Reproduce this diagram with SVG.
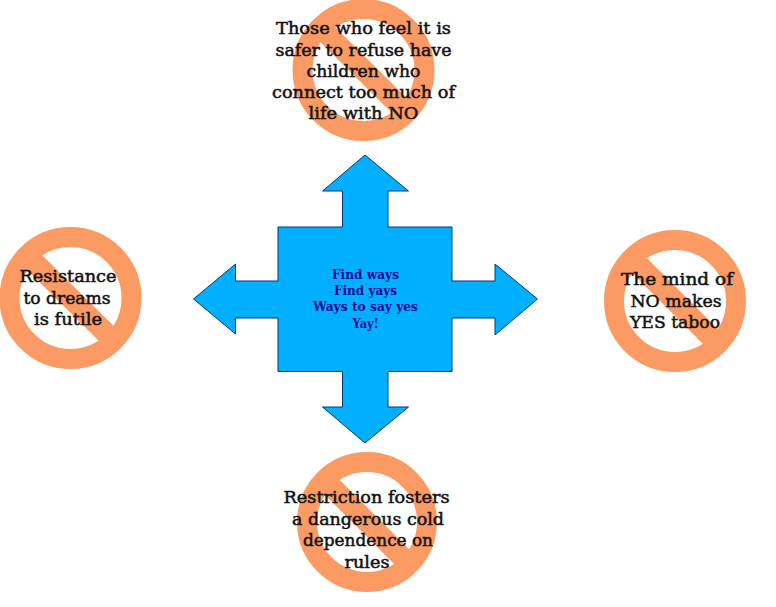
<svg xmlns="http://www.w3.org/2000/svg" width="776" height="607" viewBox="0 0 776 607">
<style>
.ring{fill:none;stroke:#fb9a63;stroke-width:20}
.bar{stroke:#fb9a63;stroke-width:21;fill:none}
.t{font-family:"DejaVu Serif","Liberation Serif",serif;font-size:17px;fill:#111;text-anchor:middle;stroke:#111;stroke-width:.5}
.c{font-family:"DejaVu Serif","Liberation Serif",serif;font-size:12.500px;font-weight:bold;fill:#0a0a96;text-anchor:middle}
</style>
<rect width="776" height="607" fill="#fff"/>
<g id="connectors">
<path id="cross" d="M365 155L408.500 191H388V227H452V281H495V264L537.500 299L495 335V318H452V371.500H388V407H408.500L365 443L322.500 407H342.500V371.500H278V318H235.500V334L193.500 299L235.500 264V281H278V227H342.500V191H322.500Z" fill="#00b0ff" stroke="#06357a" stroke-width="1"/>
</g>
<g id="center">
<text class="c" x="365.500" y="279" textLength="67" lengthAdjust="spacingAndGlyphs">Find ways</text>
<text class="c" x="365.500" y="295" textLength="63" lengthAdjust="spacingAndGlyphs">Find yays</text>
<text class="c" x="365.500" y="311" textLength="105" lengthAdjust="spacingAndGlyphs">Ways to say yes</text>
<text class="c" x="365.500" y="328" textLength="26" lengthAdjust="spacingAndGlyphs">Yay!</text>
</g>
<g id="node-top">
<circle class="ring" cx="363.500" cy="70" r="61"/>
<line class="bar" x1="320" y1="27" x2="407" y2="113"/>
<text class="t" x="363.500" y="34" textLength="175" lengthAdjust="spacingAndGlyphs">Those who feel it is</text>
<text class="t" x="363.500" y="56" textLength="176" lengthAdjust="spacingAndGlyphs">safer to refuse have</text>
<text class="t" x="363.500" y="77" textLength="114" lengthAdjust="spacingAndGlyphs">children who</text>
<text class="t" x="363.500" y="98" textLength="183" lengthAdjust="spacingAndGlyphs">connect too much of</text>
<text class="t" x="363.500" y="119" textLength="110" lengthAdjust="spacingAndGlyphs">life with NO</text>
</g>
<g id="node-left">
<circle class="ring" cx="70.500" cy="298" r="61"/>
<line class="bar" x1="27" y1="255" x2="114" y2="341"/>
<text class="t" x="68" y="282" textLength="97" lengthAdjust="spacingAndGlyphs">Resistance</text>
<text class="t" x="67" y="304" textLength="87" lengthAdjust="spacingAndGlyphs">to dreams</text>
<text class="t" x="68" y="325" textLength="68" lengthAdjust="spacingAndGlyphs">is futile</text>
</g>
<g id="node-right">
<circle class="ring" cx="675" cy="301" r="61"/>
<line class="bar" x1="632" y1="258" x2="718" y2="344"/>
<text class="t" x="677" y="285" textLength="112" lengthAdjust="spacingAndGlyphs">The mind of</text>
<text class="t" x="676" y="307" textLength="91" lengthAdjust="spacingAndGlyphs">NO makes</text>
<text class="t" x="675" y="328" textLength="90" lengthAdjust="spacingAndGlyphs">YES taboo</text>
</g>
<g id="node-bottom">
<circle class="ring" cx="367" cy="522" r="60"/>
<line class="bar" x1="324" y1="479" x2="410" y2="565"/>
<text class="t" x="366.500" y="503" textLength="166" lengthAdjust="spacingAndGlyphs">Restriction fosters</text>
<text class="t" x="368" y="525" textLength="152" lengthAdjust="spacingAndGlyphs">a dangerous cold</text>
<text class="t" x="368" y="546" textLength="130" lengthAdjust="spacingAndGlyphs">dependence on</text>
<text class="t" x="367" y="568" textLength="45" lengthAdjust="spacingAndGlyphs">rules</text>
</g>
</svg>
